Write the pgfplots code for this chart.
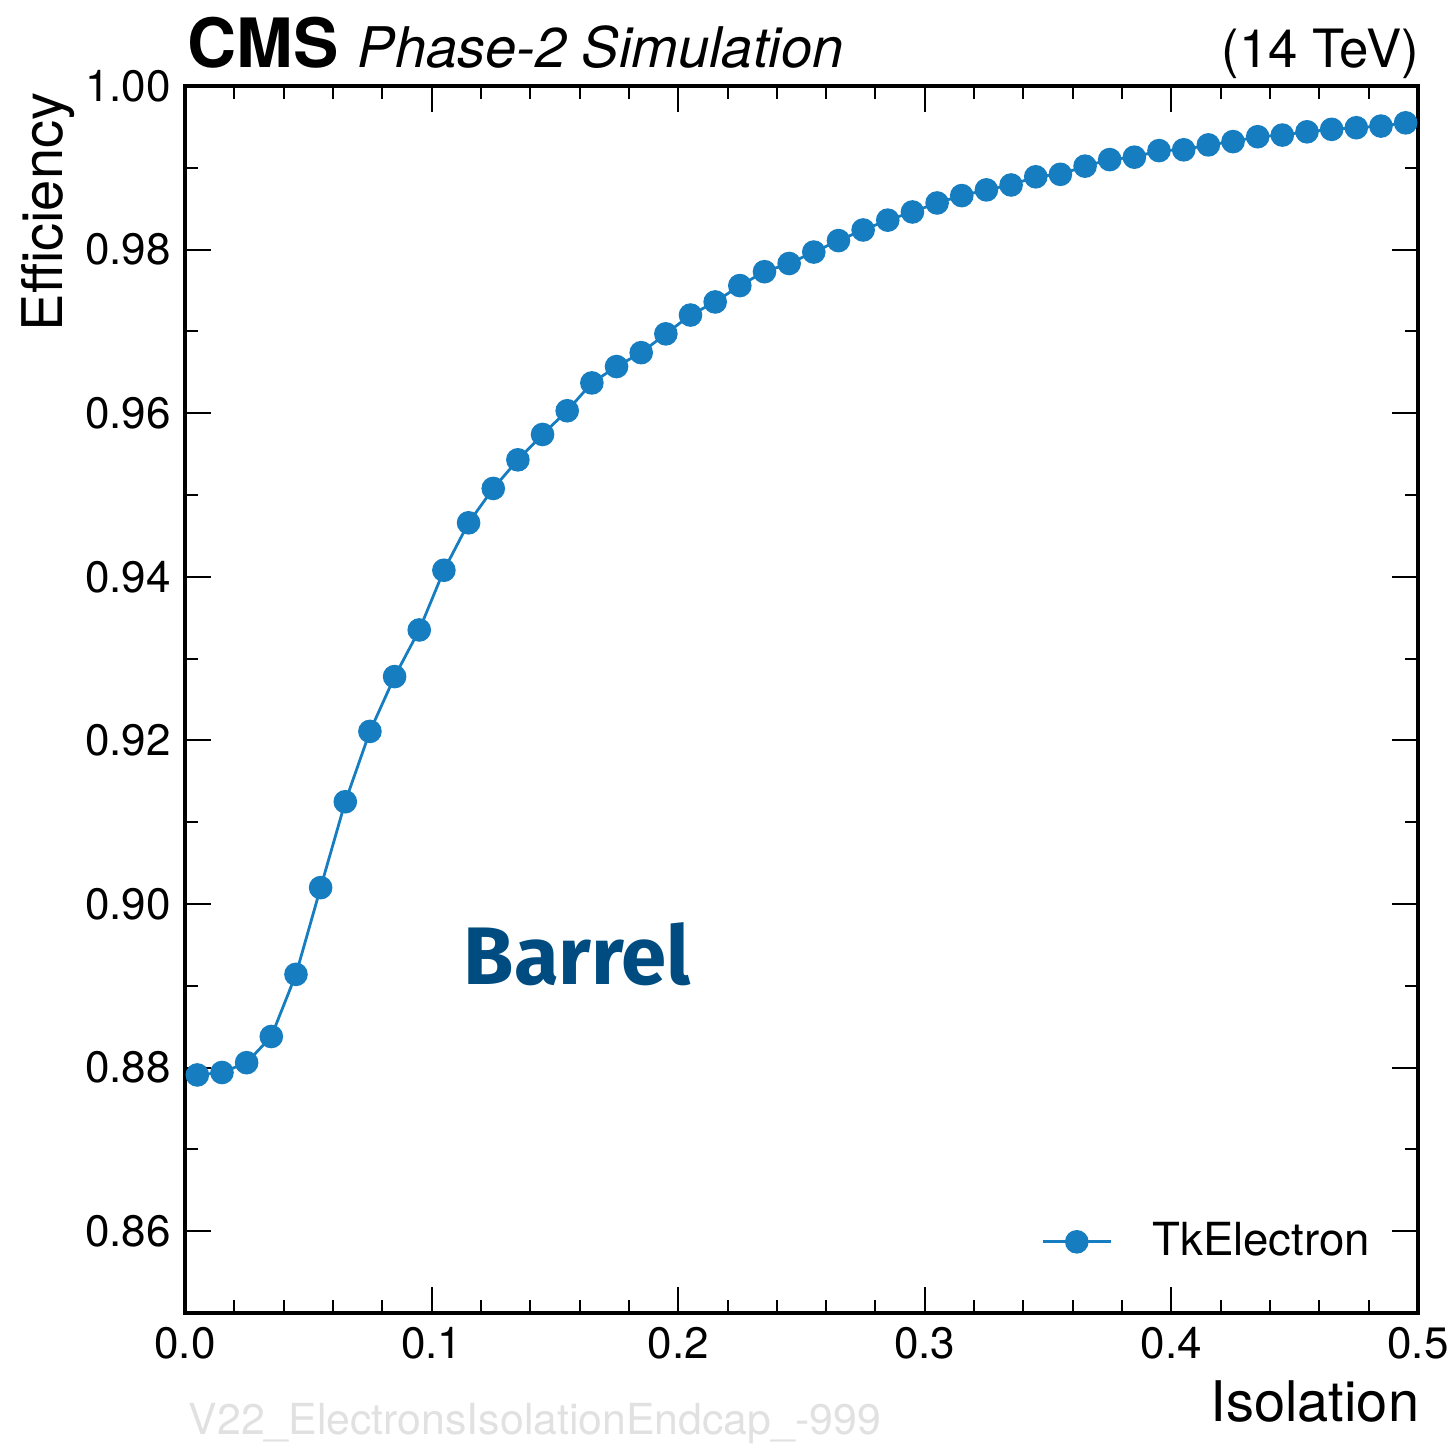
\documentclass[border=0pt]{standalone}
\usepackage{fontspec}
\setmainfont{TeX Gyre Heros}
\newfontfamily\fira{Fira Sans}
\usepackage{pgfplots}
\pgfplotsset{compat=1.18}
\definecolor{tkblue}{RGB}{22,126,192}
\definecolor{barrelblue}{RGB}{0,76,128}
\definecolor{wm}{RGB}{225,225,225}
\begin{document}
\begin{tikzpicture}
\path[use as bounding box] (-46.25pt,-33.75pt) rectangle (316.25pt,328.25pt);
\begin{axis}[
  scale only axis, width=308.25pt, height=306.75pt,
  at={(0,0)}, anchor=south west,
  xmin=0, xmax=0.5, ymin=0.85, ymax=1.0,
  xtick={0,0.1,...,0.5}, ytick={0.86,0.88,...,1.0},
  minor x tick num=4, minor y tick num=1,
  tick align=inside, ticks=both,
  xtick pos=both, ytick pos=both,
  major tick length=6.5pt, minor tick length=3.2pt,
  every tick/.style={black, line width=0.5pt},
  axis line style={line width=1pt},
  /pgf/number format/assume math mode=true,
  ticklabel style={font=\fontsize{11}{13}\selectfont},
  xticklabel style={/pgf/number format/.cd, fixed, fixed zerofill, precision=1},
  yticklabel style={/pgf/number format/.cd, fixed, fixed zerofill, precision=2},
  scaled ticks=false,
  legend style={draw=none, fill=none, at={(0.978,0.058)}, anchor=east,
    font=\fontsize{11.4}{13}\selectfont},
  legend cell align=left,
  clip=false,
]
\addplot[tkblue, line width=0.7pt, mark=*, mark size=2.6pt, mark options={fill=tkblue, draw=tkblue}] coordinates {
(0.005,0.8791)(0.015,0.8794)(0.025,0.8806)(0.035,0.8838)(0.045,0.8914)
(0.055,0.9020)(0.065,0.9125)(0.075,0.9211)(0.085,0.9278)(0.095,0.9335)
(0.105,0.9408)(0.115,0.9466)(0.125,0.9508)(0.135,0.9543)(0.145,0.9574)
(0.155,0.9603)(0.165,0.9637)(0.175,0.9657)(0.185,0.9674)(0.195,0.9697)
(0.205,0.9720)(0.215,0.9736)(0.225,0.9756)(0.235,0.9773)(0.245,0.9783)
(0.255,0.9797)(0.265,0.9811)(0.275,0.9824)(0.285,0.9836)(0.295,0.9846)
(0.305,0.9857)(0.315,0.9866)(0.325,0.9873)(0.335,0.9879)(0.345,0.9889)
(0.355,0.9892)(0.365,0.9902)(0.375,0.9910)(0.385,0.9913)(0.395,0.9921)
(0.405,0.9922)(0.415,0.9928)(0.425,0.9932)(0.435,0.9938)(0.445,0.9940)
(0.455,0.9944)(0.465,0.9947)(0.475,0.9949)(0.485,0.9951)(0.495,0.9955)
};
\addlegendentry{\hspace{8pt}TkElectron}
\end{axis}
\node[anchor=base west, inner sep=0pt, font=\fontsize{17}{19}\selectfont\bfseries] at (0.5pt,311.25pt) {CMS};
\node[anchor=base west, inner sep=0pt, font=\fontsize{14}{16}\selectfont\itshape] at (43pt,311.25pt) {Phase-2 Simulation};
\node[anchor=base east, inner sep=0pt, font=\fontsize{13.2}{15}\selectfont] at (308.75pt,311.25pt) {(14 TeV)};
\node[anchor=east, rotate=90, inner sep=0pt, font=\fontsize{14}{16}\selectfont] at (-34.25pt,305.25pt) {Efficiency};
\node[anchor=base east, inner sep=0pt, font=\fontsize{14}{16}\selectfont] at (308.75pt,-27.25pt) {Isolation};
\node[anchor=base west, inner sep=0pt, text=barrelblue, font=\fontsize{20.4}{24}\selectfont\fira\bfseries] at (69.5pt,82pt) {Barrel};
\node[anchor=base west, inner sep=0pt, text=wm, font=\fontsize{10.7}{12}\selectfont] at (0.75pt,-30.5pt) {V22\_ElectronsIsolationEndcap\_-999};
\end{tikzpicture}
\end{document}
